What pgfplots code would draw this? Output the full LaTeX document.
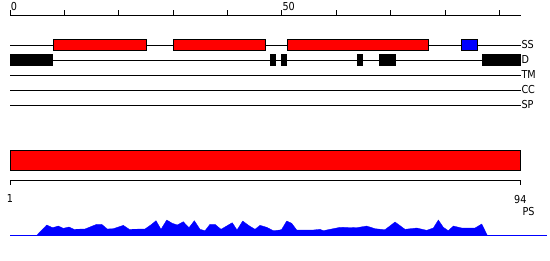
\documentclass[border=0pt]{standalone}
\usepackage{fontspec}
\setmainfont{DejaVu Sans}[FakeStretch=0.88]
\usepackage{pgfplots}
\pgfplotsset{compat=1.18}
\pgfplotstableread{
r h
5.87 0
7.69 10.3
8.78 7.6
9.80 9.3
10.71 7
11.75 8.3
12.66 6
14.67 6.3
16.80 11
17.71 11
18.73 6.3
19.83 6.6
21.65 10
22.74 6
25.60 6.3
26.82 11
27.61 14.6
28.52 6
29.56 15.3
30.58 12
31.49 10.3
32.58 13.6
33.62 7.6
34.59 14.6
35.63 6
36.54 4.6
37.45 11
38.36 11
39.45 6
41.51 12.6
42.37 5.3
43.41 14.3
44.56 9.6
45.65 6
46.56 10
47.78 8
48.99 4.6
50.21 5.3
50.52 6
51.43 14.3
52.34 12
53.25 5.3
56.28 5.3
57.50 6
58.10 4.6
59.32 6
61.14 8
64.19 7.6
66.01 9.3
67.52 6.6
69.34 5.6
71.17 13.3
72.99 6
75.12 7.3
76.94 5
78.15 7.3
79.06 15.3
79.97 8
80.89 4.6
81.79 9.3
83.32 7.3
85.75 7.3
86.97 11.3
87.99 0
}\pstable
\begin{document}
\begin{tikzpicture}[x=1bp,y=1bp]
\useasboundingbox (0,0) rectangle (550,260);
\pgfplotsset{/pgf/number format/assume math mode=true}
% ---------- feature tracks ----------
\begin{axis}[
  scale only axis, width=511bp, height=90bp,
  at={(10bp,155bp)}, anchor=south west,
  xmin=0, xmax=94, ymin=0, ymax=6,
  axis x line=top, axis y line=right,
  x axis line style={-, line width=0.8bp},
  y axis line style={draw=none},
  xtick={0,10,...,90}, xticklabels={0,,,,,50,,,,},
  xtick align=outside, ytick align=inside, major tick length=4.5bp,
  xtick style={black, line width=0.8bp},
  ytick={0,1,2,3,4}, yticklabels={SP,CC,TM,D,SS},
  ytick style={draw=none},
  yticklabel style={anchor=west, inner sep=0pt, xshift=0.3bp},
  xticklabel style={anchor=base west, inner sep=0pt, xshift=0.6bp, yshift=-0.5bp},
  tick label style={font=\fontsize{11}{13}\selectfont},
  clip=false,
]
\addplot[black, line width=0.8bp] coordinates {(0,4)(94,4)};
\addplot[black, line width=0.8bp] coordinates {(0,3)(94,3)};
\addplot[black, line width=0.8bp] coordinates {(0,2)(94,2)};
\addplot[black, line width=0.8bp] coordinates {(0,1)(94,1)};
\addplot[black, line width=0.8bp] coordinates {(0,0)(94,0)};
% SS
\addplot[fill=red, draw=black, line width=0.8bp] coordinates {(8,3.66)(25,3.66)(25,4.34)(8,4.34)} --cycle;
\addplot[fill=red, draw=black, line width=0.8bp] coordinates {(30,3.66)(47,3.66)(47,4.34)(30,4.34)} --cycle;
\addplot[fill=red, draw=black, line width=0.8bp] coordinates {(51,3.66)(77,3.66)(77,4.34)(51,4.34)} --cycle;
\addplot[fill=blue, draw=black, line width=0.8bp] coordinates {(83,3.66)(86,3.66)(86,4.34)(83,4.34)} --cycle;
% D
\addplot[fill=black, draw=none] coordinates {(0,2.63)(8,2.63)(8,3.37)(0,3.37)} --cycle;
\addplot[fill=black, draw=none] coordinates {(47.9,2.63)(49,2.63)(49,3.37)(47.9,3.37)} --cycle;
\addplot[fill=black, draw=none] coordinates {(49.9,2.63)(51,2.63)(51,3.37)(49.9,3.37)} --cycle;
\addplot[fill=black, draw=none] coordinates {(63.9,2.63)(65,2.63)(65,3.37)(63.9,3.37)} --cycle;
\addplot[fill=black, draw=none] coordinates {(67.8,2.63)(71,2.63)(71,3.37)(67.8,3.37)} --cycle;
\addplot[fill=black, draw=none] coordinates {(86.9,2.63)(94,2.63)(94,3.37)(86.9,3.37)} --cycle;
\end{axis}
% ---------- sequence bar ----------
\begin{axis}[
  scale only axis, width=510.3bp, height=30bp,
  at={(10bp,79.7bp)}, anchor=south west,
  xmin=1, xmax=94, ymin=0, ymax=30,
  axis x line=bottom, axis y line=none,
  x axis line style={-, line width=0.8bp},
  xtick={1,94}, xtick align=outside, major tick length=4.5bp,
  xtick style={black, line width=0.8bp},
  xticklabel style={anchor=north, inner sep=0pt, yshift=-10bp, font=\fontsize{11}{13}\selectfont},
  clip=false,
]
\addplot[fill=red, draw=black, line width=0.8bp] coordinates {(1,10)(94,10)(94,30)(1,30)} --cycle;
\end{axis}
% ---------- PS profile ----------
\begin{axis}[
  scale only axis, width=510.3bp, height=16bp,
  at={(10bp,24.7bp)}, anchor=south west,
  xmin=1, xmax=94, ymin=0, ymax=16,
  hide axis, clip=false,
]
\addplot[fill=blue, draw=blue, line width=0.3bp] table[x=r,y=h] {\pstable} \closedcycle;
\addplot[blue, line width=1bp] coordinates {(1,0)(98.9,0)};
\node[anchor=base west, inner sep=0pt, font=\fontsize{11}{13}\selectfont] at (axis cs:94.37,20.3) {PS};
\end{axis}
\end{tikzpicture}
\end{document}
